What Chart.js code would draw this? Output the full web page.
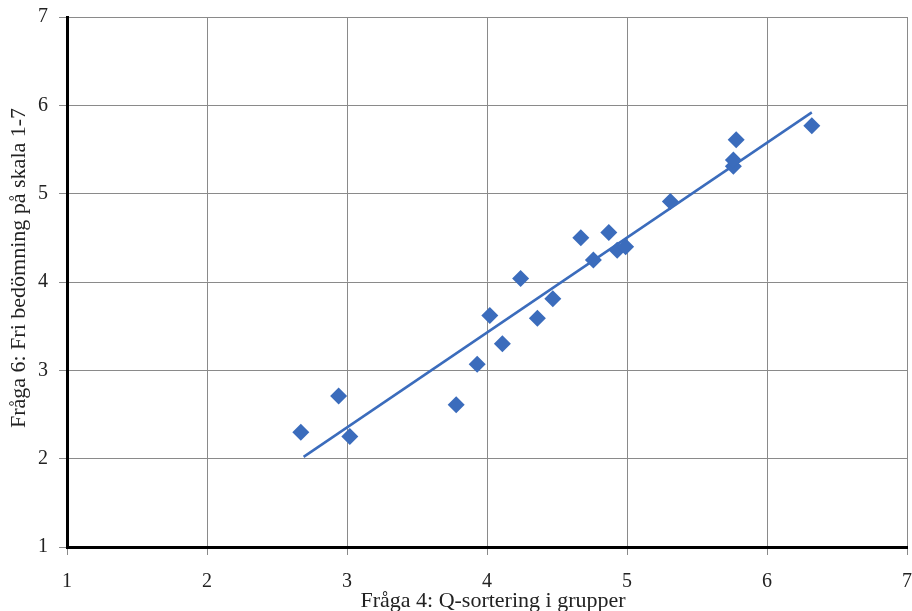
<!DOCTYPE html>
<html>
<head>
<meta charset="utf-8">
<script src="https://cdn.jsdelivr.net/npm/chart.js@4"></script>
<style>
  html, body { margin: 0; padding: 0; background: #ffffff; }
  #graf { display: block; }
</style>
</head>
<body>
<canvas id="graf" width="912" height="611"></canvas>
<script>
// Fråga 4 (x) mot Fråga 6 (y)
const fraga4 = [2.67, 2.94, 3.02, 3.78, 3.93, 4.02, 4.11, 4.24, 4.36, 4.47,
                4.67, 4.76, 4.87, 4.93, 4.99, 5.31, 5.76, 5.76, 5.78, 6.32];
const fraga6 = [2.30, 2.71, 2.25, 2.61, 3.07, 3.62, 3.30, 4.04, 3.59, 3.81,
                4.50, 4.25, 4.56, 4.36, 4.40, 4.91, 5.31, 5.38, 5.61, 5.77];

// trendlinjens ändpunkter
const trendX = [2.69, 6.32];
const trendY = [2.02, 5.92];

const tickVarden = [1, 2, 3, 4, 5, 6, 7];

const xTitel = "Fråga 4: Q-sortering i grupper";
const yTitel = "Fråga 6: Fri bedömning på skala 1-7";

const bla = "#3b6cbc";
const serif = "'Liberation Serif', 'DejaVu Serif', serif";
const tickFont = { family: serif, size: 20 };

const punkter = fraga4.map((x, i) => ({ x: x, y: fraga6[i] }));
const trend = trendX.map((x, i) => ({ x: x, y: trendY[i] }));

// axeltitlarna ligger lite förskjutna i originalet, så de ritas här
const axeltitlar = {
  id: "axeltitlar",
  afterDraw(chart) {
    const { ctx, chartArea } = chart;
    const mittX = (chartArea.left + chartArea.right) / 2;
    const mittY = (chartArea.top + chartArea.bottom) / 2;
    ctx.save();
    ctx.font = "22px " + serif;
    ctx.fillStyle = "#222222";
    ctx.textAlign = "center";
    ctx.textBaseline = "alphabetic";
    ctx.fillText(xTitel, mittX + 6, chart.height - 4.5);
    ctx.translate(25, mittY - 14);
    ctx.rotate(-Math.PI / 2);
    ctx.fillText(yTitel, 0, 0);
    ctx.restore();
  }
};

new Chart(document.getElementById("graf"), {
  type: "scatter",
  data: {
    datasets: [
      {
        label: "Fråga 6",
        data: punkter,
        pointStyle: "rectRot",
        pointRadius: 8.5,
        pointHoverRadius: 8.5,
        backgroundColor: bla,
        borderColor: bla,
        borderWidth: 0,
        order: 1
      },
      {
        label: "Trend",
        type: "line",
        data: trend,
        borderColor: bla,
        borderWidth: 2.5,
        pointRadius: 0,
        fill: false,
        order: 2
      }
    ]
  },
  options: {
    responsive: false,
    animation: false,
    devicePixelRatio: 1,
    layout: { autoPadding: false, padding: { top: 17, right: 5, bottom: 0, left: 0 } },
    plugins: {
      legend: { display: false },
      tooltip: { enabled: false }
    },
    scales: {
      x: {
        type: "linear",
        min: 1,
        max: 7,
        afterBuildTicks: axis => { axis.ticks = tickVarden.map(v => ({ value: v })); },
        afterFit: axis => {
          axis.height = 64;
          axis.paddingLeft = 0;
          axis.paddingRight = 0;
        },
        grid: { color: "#8a8a8a", lineWidth: 1, tickLength: 8, tickColor: "#8a8a8a" },
        border: { color: "#000000", width: 3 },
        ticks: { color: "#222222", font: tickFont, padding: 15, maxRotation: 0 }
      },
      y: {
        type: "linear",
        min: 1,
        max: 7,
        afterBuildTicks: axis => { axis.ticks = tickVarden.map(v => ({ value: v })); },
        afterFit: axis => {
          axis.width = 67;
          axis.paddingTop = 0;
          axis.paddingBottom = 0;
        },
        grid: { color: "#8a8a8a", lineWidth: 1, tickLength: 8, tickColor: "#8a8a8a" },
        border: { color: "#000000", width: 3 },
        ticks: { color: "#222222", font: tickFont, padding: 11 }
      }
    }
  },
  plugins: [axeltitlar]
});
</script>
</body>
</html>
